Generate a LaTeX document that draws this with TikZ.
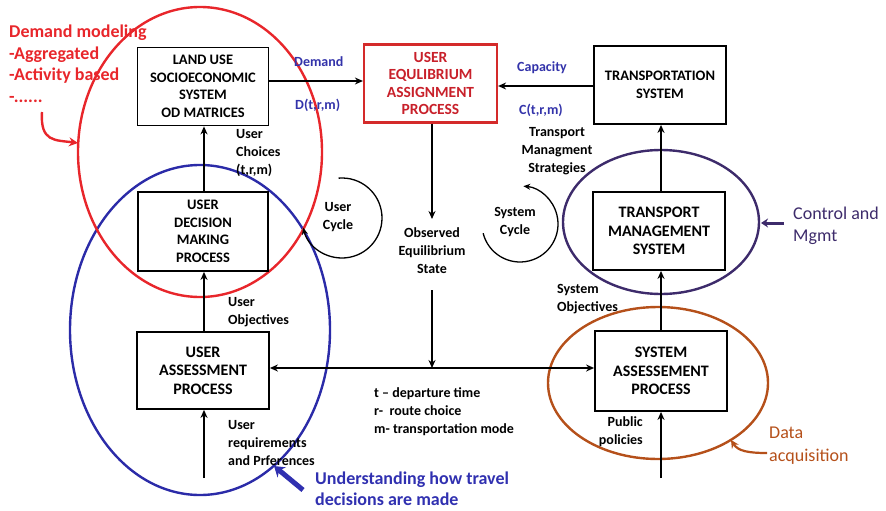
\documentclass[tikz,border=0pt]{standalone}
\usepackage{fontspec}
\setmainfont{Carlito}
\usetikzlibrary{arrows.meta}
\definecolor{ellred}{HTML}{E8262B}
\definecolor{boxred}{HTML}{D42A2A}
\definecolor{txtred}{HTML}{C8202A}
\definecolor{ellblue}{HTML}{2B2BA8}
\definecolor{lblue}{HTML}{3333AA}
\definecolor{ublue}{HTML}{3030B0}
\definecolor{cpurple}{HTML}{3D2B6B}
\definecolor{dbrown}{HTML}{B5501A}
\begin{document}
\begin{tikzpicture}[x=1pt,y=-1pt,
  box/.style={draw, line width=1.8pt, minimum width=131pt, minimum height=78pt, align=center,
    font=\fontsize{14.5}{17.5}\selectfont\bfseries, inner sep=0},
  bigbox/.style={box, font=\fontsize{16}{18.5}\selectfont\bfseries},
  arr/.style={line width=1.8pt, -{Stealth[length=8pt,width=7pt]}},
  lbl/.style={font=\fontsize{14}{18}\selectfont\bfseries, inner sep=0, align=left},
  ell/.style={line width=2.4pt}
]
\useasboundingbox (0,0) rectangle (886,511);

% ellipses
\draw[ell, ellblue] (200,330) ellipse [x radius=130, y radius=165];
\draw[ell, ellred] (200,152) ellipse [x radius=122, y radius=145];
\draw[ell, cpurple] (661,222) ellipse [x radius=98, y radius=72];
\draw[ell, dbrown] (658,383) ellipse [x radius=110, y radius=76];

% boxes
\node[box] (landuse) at (203,86.5) {LAND USE\\SOCIOECONOMIC\\SYSTEM\\OD MATRICES};
\node[box, draw=boxred, text=txtred, line width=2.2pt, minimum width=133pt,
  font=\fontsize{15.5}{17.5}\selectfont\bfseries] (ue) at (430.5,83.5) {USER\\EQULIBRIUM\\ASSIGNMENT\\PROCESS};
\node[box, minimum width=132pt] (ts) at (660,85) {TRANSPORTATION\\SYSTEM};
\node[bigbox, minimum width=132pt] (tms) at (659,231) {TRANSPORT\\MANAGEMENT\\SYSTEM};
\node[box, minimum width=130pt, minimum height=79pt] (udm) at (203,231.5) {USER\\DECISION\\MAKING\\PROCESS};
\node[bigbox, minimum width=132pt, minimum height=77pt] (ua) at (203,370.5) {USER\\ASSESSMENT\\PROCESS};
\node[bigbox, minimum width=132pt, minimum height=80pt] (sa) at (661,371) {SYSTEM\\ASSESSEMENT\\PROCESS};

% free connector ends
\coordinate (obsin) at (432,219);
\coordinate (obsout) at (432,290);
\coordinate (junc) at (432,368);
\coordinate (uin) at (204,478);
\coordinate (sin) at (661,478);

% connectors
\draw[arr] (landuse.east |- 0,81) -- (ue.west |- 0,81);
\draw[arr] (ts.west |- 0,86) -- (ue.east |- 0,86);
\draw[arr] (ue.south -| obsin) -- (obsin);
\draw[arr] (obsout) -- (junc);
\draw[line width=1.8pt, {Stealth[length=8pt,width=7pt]}-{Stealth[length=8pt,width=7pt]}] (ua.east |- junc) -- (sa.west |- junc);
\draw[arr] (udm.north -| uin) -- (landuse.south -| uin);
\draw[arr] (ua.north -| uin) -- (udm.south -| uin);
\draw[arr] (uin) -- (ua.south -| uin);
\draw[arr] (tms.north -| sin) -- (ts.south -| sin);
\draw[arr] (sa.north -| sin) -- (tms.south -| sin);
\draw[arr] (sin) -- (sa.south -| sin);

% cycles
\draw[line width=1.3pt, -{Stealth[length=7pt,width=6pt]}] (342,218) ++(-95:40) arc[start angle=-95, end angle=166, radius=40];
\draw[line width=1.3pt, -{Stealth[length=7pt,width=6pt]}] (520,224) ++(-194:38) arc[start angle=-194, end angle=-445, radius=38];

% labels
\node[lbl, text=ellred, font=\fontsize{18}{21.5}\selectfont\bfseries, anchor=north west] (dm) at (9,25) {Demand modeling\\-Aggregated\\-Activity based\\-......};
\node[lbl, text=lblue, anchor=north west] (dem) at (294,56) {Demand};
\node[lbl, text=lblue, anchor=north west] (dtrm) at (295,99) {D(t,r,m)};
\node[lbl, text=lblue, anchor=north west] (cap) at (517,61) {Capacity};
\node[lbl, text=lblue, anchor=north west] (ctrm) at (519,104) {C(t,r,m)};
\node[lbl, align=center, anchor=north] (tmsl) at (557,127) {Transport\\Managment\\Strategies};
\node[lbl, anchor=north west] (uc) at (236,129) {User\\Choices\\(t,r,m)};
\node[lbl, align=center, anchor=north] (ucyc) at (338,202) {User\\Cycle};
\node[lbl, align=center, anchor=north] (scyc) at (515,207) {System\\Cycle};
\node[lbl, align=center, anchor=north] (obs) at (432,227) {Observed\\Equilibrium\\State};
\node[lbl, anchor=north west] (uo) at (228,297) {User\\Objectives};
\node[lbl, anchor=north west] (leg) at (374,387) {t -- departure time\\r-\ \ route choice\\m- transportation mode};
\node[lbl, anchor=north west] (ur) at (228,420) {User\\requirements\\and Prferences};
\node[lbl, text=ublue, font=\fontsize{18}{21}\selectfont\bfseries, anchor=north west] (und) at (315,472) {Understanding how travel\\decisions are made};
\node[lbl, anchor=north west] (so) at (557,284) {System\\Objectives};
\node[lbl, align=right, anchor=north east] (pp) at (643,416) {Public\\policies};
\node[lbl, text=dbrown, font=\fontsize{18}{23}\selectfont, anchor=north west] (da) at (769,427) {Data\\acquisition};
\node[lbl, text=cpurple, font=\fontsize{18}{22}\selectfont, anchor=north west] (cm) at (793,207) {Control and\\Mgmt};

% pointer arrows
\draw[line width=2.4pt, ellred, -{Stealth[length=9pt,width=9pt]}] (42,112) .. controls (40,142) and (55,140) .. (78,143);
\draw[line width=2.2pt, dbrown, -{Stealth[length=8pt,width=8pt]}] (767,453) .. controls (748,453) and (738,451) .. (731,440);
\draw[line width=5pt, ublue, -{Stealth[length=10pt,width=13pt]}] (303,490) -- (274,466);
\draw[line width=3pt, cpurple, -{Stealth[length=7pt,width=9pt]}] (784,223) -- (761,223);
\end{tikzpicture}
\end{document}
